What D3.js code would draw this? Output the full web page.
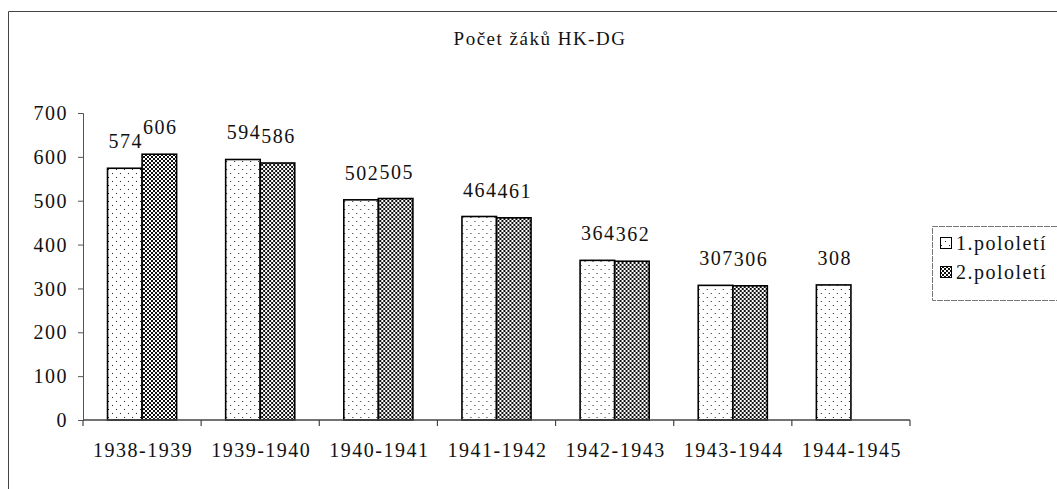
<!DOCTYPE html>
<html>
<head>
<meta charset="utf-8">
<script src="https://cdn.jsdelivr.net/npm/d3@7/dist/d3.min.js"></script>
<style>
  html, body { margin: 0; padding: 0; background: #fff; }
  svg { display: block; }
  text { font-family: "Liberation Serif", "Times New Roman", serif; fill: #111; }
</style>
</head>
<body>
<svg id="chart" width="1057" height="489"></svg>
<script>
const categories = ["1938-1939", "1939-1940", "1940-1941", "1941-1942", "1942-1943", "1943-1944", "1944-1945"];
const series1 = [574, 594, 502, 464, 364, 307, 308];
const series2 = [606, 586, 505, 461, 362, 306, null];
const seriesNames = ["1.pololetí", "2.pololetí"];
const yTicks = [0, 100, 200, 300, 400, 500, 600, 700];
const title = "Počet žáků HK-DG";

const svg = d3.select("#chart");
const W = 1057, H = 489;
const m = { left: 83, right: 147, top: 113, bottom: 69 };

const defs = svg.append("defs");
const p1 = defs.append("pattern").attr("id", "dots").attr("patternUnits", "userSpaceOnUse")
  .attr("width", 8).attr("height", 8);
p1.append("rect").attr("width", 8).attr("height", 8).attr("fill", "#fff");
p1.append("rect").attr("x", 1).attr("y", 1).attr("width", 1).attr("height", 1).attr("fill", "#222");
p1.append("rect").attr("x", 5).attr("y", 5).attr("width", 1).attr("height", 1).attr("fill", "#222");
const p2 = defs.append("pattern").attr("id", "checker").attr("patternUnits", "userSpaceOnUse")
  .attr("width", 4).attr("height", 4);
p2.append("rect").attr("width", 4).attr("height", 4).attr("fill", "#fff");
p2.append("rect").attr("x", 0).attr("y", 0).attr("width", 2).attr("height", 2).attr("fill", "#111");
p2.append("rect").attr("x", 2).attr("y", 2).attr("width", 2).attr("height", 2).attr("fill", "#111");

// outer frame
svg.append("path").attr("d", `M8.5,${H} V11.5 H${W}`).attr("fill", "none").attr("stroke", "#444").attr("stroke-width", 1);

// title
svg.append("text").attr("x", 540).attr("y", 45).attr("text-anchor", "middle")
  .attr("font-size", 19).attr("letter-spacing", 1.5).text(title);

const x = d3.scaleBand().domain(categories).range([m.left, W - m.right]).paddingInner(0).paddingOuter(0);
const y = d3.scaleLinear().domain([0, 700]).range([H - m.bottom, m.top]);
const inner = d3.scaleBand().domain([0, 1]).range([0, x.bandwidth()]).paddingInner(0).paddingOuter(0.71);

// y axis
const yAxis = svg.append("g").attr("transform", `translate(${m.left},0)`)
  .call(d3.axisLeft(y).tickValues(yTicks).tickSize(5).tickPadding(10).tickFormat(d3.format("d")));
yAxis.select(".domain").attr("stroke", "#555");
yAxis.selectAll(".tick line").attr("stroke", "#555");
yAxis.selectAll("text").attr("font-size", 20).attr("letter-spacing", 1.5)
  .attr("font-family", "Liberation Serif, serif").attr("fill", "#111").attr("dy", "0.33em");

// bars
const data = categories.map((c, i) => ({ c, v: [series1[i], series2[i]] }));
const groups = svg.append("g").selectAll("g").data(data).join("g")
  .attr("transform", d => `translate(${x(d.c)},0)`);
groups.selectAll("rect").data(d => d.v.map((v, j) => ({ v, j })).filter(e => e.v != null)).join("rect")
  .attr("x", e => inner(e.j)).attr("width", inner.bandwidth())
  .attr("y", e => y(e.v)).attr("height", e => y(0) - y(e.v))
  .attr("fill", e => e.j === 0 ? "url(#dots)" : "url(#checker)")
  .attr("stroke", "#000").attr("stroke-width", 1.6);
groups.selectAll("text.val").data(d => d.v.map((v, j) => ({ v, j })).filter(e => e.v != null)).join("text")
  .attr("class", "val")
  .attr("x", e => inner(e.j) + inner.bandwidth() / 2 + 1)
  .attr("y", e => y(e.v) - 20)
  .attr("text-anchor", "middle").attr("font-size", 20).attr("letter-spacing", 1.5)
  .text(e => e.v);

// x axis
const xAxisG = svg.append("g").attr("transform", `translate(0,${H - m.bottom})`);
xAxisG.append("line").attr("x1", m.left).attr("x2", W - m.right).attr("stroke", "#444").attr("stroke-width", 1.5);
const bounds = categories.map(c => x(c)).concat([W - m.right]);
xAxisG.selectAll("line.tk").data(bounds).join("line").attr("class", "tk")
  .attr("x1", d => d).attr("x2", d => d).attr("y1", 0).attr("y2", 6)
  .attr("stroke", "#444").attr("stroke-width", 1.2);
xAxisG.selectAll("text").data(categories).join("text")
  .attr("x", d => x(d) + x.bandwidth() / 2 + 1).attr("y", 37)
  .attr("text-anchor", "middle").attr("font-size", 20).attr("letter-spacing", 1.5).text(d => d);

// legend
const lg = svg.append("g");
lg.append("path").attr("d", `M${W},226.5 H932.5 V300.5 H${W}`).attr("fill", "none")
  .attr("stroke", "#777").attr("stroke-width", 1).attr("stroke-dasharray", "6,1");
seriesNames.forEach((n, i) => {
  const yy = 250 + i * 29;
  lg.append("rect").attr("x", 940.5).attr("y", yy - 12.5).attr("width", 11).attr("height", 11)
    .attr("fill", i === 0 ? "url(#dots)" : "url(#checker)").attr("stroke", "#000").attr("stroke-width", 1);
  lg.append("text").attr("x", 956).attr("y", yy).attr("font-size", 20).attr("letter-spacing", 1.5).text(n);
});
</script>
</body>
</html>
